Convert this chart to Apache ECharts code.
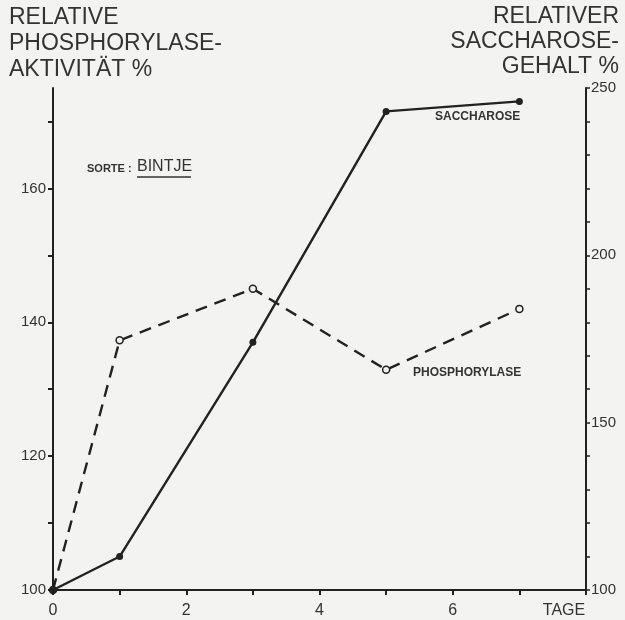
<!DOCTYPE html>
<html>
<head>
<meta charset="utf-8">
<script src="https://cdn.jsdelivr.net/npm/echarts@6/dist/echarts.min.js"></script>
<style>
html,body{margin:0;padding:0;background:#f3f3f1;}
#chart{width:625px;height:620px;}
</style>
</head>
<body>
<div id="chart"></div>
<script>
const days = [0, 1, 3, 5, 7];
const saccharose = [100, 110, 174, 243, 246];
const phosphorylase = [100, 137.3, 145, 132.9, 142];
const xTickLabels = [0, 2, 4, 6];
const xEndLabel = 'TAGE';
const leftTickLabels = [100, 120, 140, 160];
const leftMinorTicks = [100, 110, 120, 130, 140, 150, 160, 170];
const rightTickLabels = [100, 150, 200, 250];
const rightMinorTicks = [100,110,120,130,140,150,160,170,180,190,200,210,220,230,240,250];

const ink = '#222';
const font = '"Liberation Sans", Arial, sans-serif';

const chart = echarts.init(document.getElementById('chart'));
chart.setOption({
  backgroundColor: '#f3f3f1',
  animation: false,
  grid: { left: 53, right: 39, top: 88, bottom: 30, containLabel: false },
  xAxis: {
    type: 'value', min: 0, max: 8, interval: 1,
    axisLine: { show: true, lineStyle: { color: ink, width: 2 } },
    axisTick: { show: true, length: 5, inside: false, lineStyle: { color: ink, width: 2 } },
    splitLine: { show: false },
    axisLabel: {
      color: '#333', fontSize: 16, fontFamily: font, margin: 13,
      customValues: xTickLabels.concat([8]),
      formatter: v => v === 8 ? '{t|' + xEndLabel + '}' : String(v),
      rich: { t: { fontSize: 16, fontFamily: font, color: '#333', padding: [0, 44, 0, 0] } },
      showMaxLabel: true
    }
  },
  yAxis: [
    {
      type: 'value', position: 'left', min: 100, max: 175, interval: 10,
      axisLine: { show: true, lineStyle: { color: ink, width: 2 } },
      axisTick: { show: true, length: 5, customValues: leftMinorTicks, lineStyle: { color: ink, width: 2 } },
      splitLine: { show: false },
      axisLabel: { color: '#333', fontSize: 15, fontFamily: font, margin: 7, customValues: leftTickLabels }
    },
    {
      type: 'value', position: 'right', min: 100, max: 250, interval: 10,
      axisLine: { show: true, lineStyle: { color: ink, width: 2 } },
      axisTick: { show: true, length: 4, customValues: rightMinorTicks, lineStyle: { color: ink, width: 1.5 } },
      splitLine: { show: false },
      axisLabel: { color: '#333', fontSize: 15, fontFamily: font, margin: 5, customValues: rightTickLabels }
    }
  ],
  series: [
    {
      name: 'SACCHAROSE', type: 'line', yAxisIndex: 1,
      data: days.map((d, i) => [d, saccharose[i]]),
      symbol: 'circle', symbolSize: 7,
      itemStyle: { color: ink },
      lineStyle: { color: ink, width: 2.4, type: 'solid' },
      z: 3
    },
    {
      name: 'PHOSPHORYLASE', type: 'line', yAxisIndex: 0,
      data: days.map((d, i) => [d, phosphorylase[i]]),
      symbol: 'circle', symbolSize: 7,
      itemStyle: { color: '#f3f3f1', borderColor: ink, borderWidth: 1.5 },
      lineStyle: { color: ink, width: 2.4, type: [12, 8] },
      z: 2
    }
  ],
  graphic: [
    { type: 'text', x: 9, y: 5, style: { text: 'RELATIVE\nPHOSPHORYLASE-\nAKTIVITÄT %', font: '23px ' + font, fill: '#333', lineHeight: 26 } },
    { type: 'text', x: 619, y: 4, style: { text: 'RELATIVER\nSACCHAROSE-\nGEHALT %', font: '23px ' + font, fill: '#333', lineHeight: 25, align: 'right' } },
    { type: 'text', x: 435, y: 111, style: { text: 'SACCHAROSE', font: 'bold 12px ' + font, fill: '#333' } },
    { type: 'text', x: 413, y: 367, style: { text: 'PHOSPHORYLASE', font: 'bold 12px ' + font, fill: '#333' } },
    { type: 'text', x: 87, y: 163, style: { text: 'SORTE :', font: 'bold 11px ' + font, fill: '#333' } },
    { type: 'text', x: 137, y: 159, style: { text: 'BINTJE', font: '16px ' + font, fill: '#333' } },
    { type: 'line', shape: { x1: 137, y1: 177, x2: 191, y2: 177 }, style: { stroke: '#333', lineWidth: 1.3 } }
  ]
});
</script>
</body>
</html>
